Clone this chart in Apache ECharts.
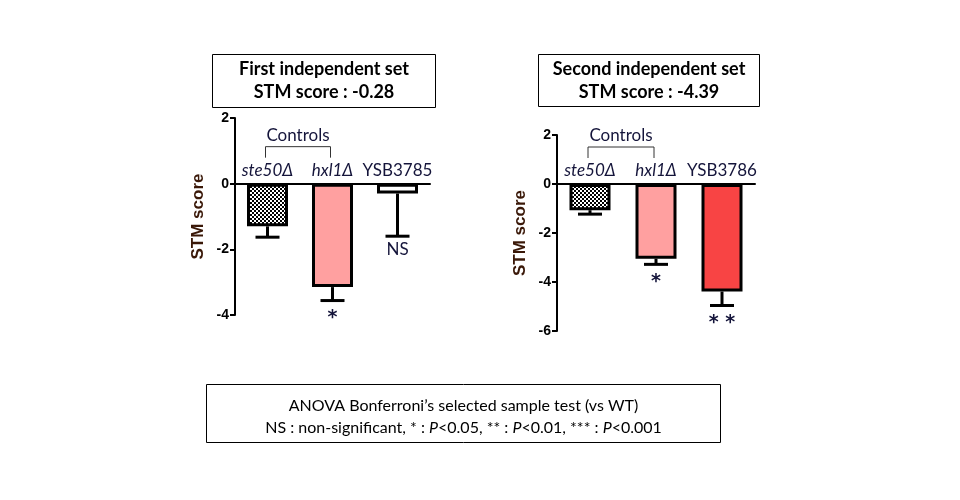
<!DOCTYPE html>
<html>
<head>
<meta charset="utf-8">
<script src="https://cdn.jsdelivr.net/npm/echarts@6/dist/echarts.min.js"></script>
<style>
  html, body { margin: 0; padding: 0; background: #fff; }
  #main { width: 960px; height: 500px; }
</style>
</head>
<body>
<div id="main"></div>
<script>
// values
var categoriesLeft = ['ste50Δ', 'hxl1Δ', 'YSB3785'];
var meansLeft = [-1.3, -3.15, -0.3];
var errLeft = [0.33, 0.41, 1.3];
var sigLeft = ['', '*', 'NS'];

var categoriesRight = ['ste50Δ', 'hxl1Δ', 'YSB3786'];
var meansRight = [-1.07, -3.05, -4.39];
var errRight = [0.16, 0.23, 0.57];
var sigRight = ['', '*', '**'];

var ticksLeft = { min: -4, max: 2, interval: 2 };
var ticksRight = { min: -6, max: 2, interval: 2 };

var FONT = 'Lato';
var TXT = '#14143a';

function checker() {
    var c = document.createElement('canvas');
    c.width = 4; c.height = 4;
    var g = c.getContext('2d');
    g.fillStyle = '#fff';
    g.fillRect(0, 0, 4, 4);
    g.fillStyle = '#000';
    g.fillRect(0, 0, 2, 2);
    g.fillRect(2, 2, 2, 2);
    return c;
}
var pattern = { image: checker(), repeat: 'repeat' };
var colorsLeft = [pattern, '#ffa0a0', '#ffffff'];
var colorsRight = [pattern, '#ffa0a0', '#f84444'];

var dom = document.getElementById('main');
var myChart = echarts.init(dom, null, { renderer: 'canvas' });

function xAxisFor(idx, cats) {
    return {
        type: 'category',
        gridIndex: idx,
        data: cats,
        axisLine: { onZero: true, lineStyle: { color: '#000', width: 2 } },
        axisTick: { show: false },
        axisLabel: { show: false }
    };
}

function yAxisFor(idx, t, gap) {
    return {
        type: 'value',
        gridIndex: idx,
        min: t.min,
        max: t.max,
        interval: t.interval,
        name: 'STM score',
        nameLocation: 'middle',
        nameGap: gap,
        nameTextStyle: { fontFamily: 'Liberation Sans', fontWeight: 'bold', fontSize: 17, color: '#3a1808' },
        axisLine: { show: true, lineStyle: { color: '#000', width: 2 } },
        axisTick: { show: true, length: 5, lineStyle: { color: '#000', width: 2 } },
        axisLabel: { fontFamily: 'Liberation Sans', fontWeight: 'bold', fontSize: 14, color: '#000', margin: 6 },
        splitLine: { show: false }
    };
}

function barSeries(idx, means, colors) {
    return {
        type: 'bar',
        xAxisIndex: idx,
        yAxisIndex: idx,
        barWidth: 41,
        data: means.map(function (v, i) {
            return { value: v, itemStyle: { color: colors[i] } };
        }),
        itemStyle: { borderColor: '#000', borderWidth: 3 },
        silent: true
    };
}

function errorSeries(idx, means, errs, sig) {
    return {
        type: 'custom',
        xAxisIndex: idx,
        yAxisIndex: idx,
        z: 5,
        silent: true,
        data: means.map(function (v, i) { return [i, v, errs[i]]; }),
        renderItem: function (params, api) {
            var i = api.value(0), m = api.value(1), e = api.value(2);
            var a = api.coord([i, m]);
            var b = api.coord([i, m - e]);
            var half = 12;
            var children = [
                { type: 'line', shape: { x1: a[0], y1: a[1], x2: b[0], y2: b[1] }, style: { stroke: '#000', lineWidth: 3 } },
                { type: 'line', shape: { x1: b[0] - half, y1: b[1], x2: b[0] + half, y2: b[1] }, style: { stroke: '#000', lineWidth: 3 } }
            ];
            var s = sig[params.dataIndex];
            if (s) {
                var isNS = s === 'NS';
                children.push({
                    type: 'text',
                    style: {
                        text: s === '**' ? '* *' : s,
                        x: b[0], y: b[1] + (isNS ? 5 : 8),
                        align: 'center', verticalAlign: 'top',
                        font: isNS ? '17px ' + FONT : 'bold 19px "DejaVu Sans"',
                        fill: TXT
                    }
                });
            }
            return { type: 'group', children: children };
        }
    };
}

// category names sit above the zero line
function labelSeries(idx, cats) {
    return {
        type: 'custom',
        xAxisIndex: idx,
        yAxisIndex: idx,
        silent: true,
        data: cats.map(function (c, i) { return [i, 0]; }),
        renderItem: function (params, api) {
            var p = api.coord([api.value(0), 0]);
            var name = cats[params.dataIndex];
            var it = name.indexOf('Δ') >= 0;
            return {
                type: 'text',
                style: {
                    text: name, x: p[0], y: p[1] - 13,
                    align: 'center', verticalAlign: 'middle',
                    font: (it ? 'italic ' : '') + '17px ' + FONT,
                    fill: TXT
                }
            };
        }
    };
}

function bracketSeries(idx) {
    return {
        type: 'custom',
        xAxisIndex: idx,
        yAxisIndex: idx,
        silent: true,
        data: [[0, 1]],
        renderItem: function (params, api) {
            var p0 = api.coord([api.value(0), 0]);
            var p1 = api.coord([api.value(1), 0]);
            var x0 = p0[0] - 2, x1 = p1[0] - 2, y = p0[1];
            return {
                type: 'group',
                children: [
                    { type: 'polyline', shape: { points: [[x0, y - 26], [x0, y - 37], [x1, y - 37], [x1, y - 26]] }, style: { stroke: '#333', lineWidth: 1, fill: null } },
                    { type: 'text', style: { text: 'Controls', x: (x0 + x1) / 2, y: y - 48, align: 'center', verticalAlign: 'middle', font: '17px ' + FONT, fill: TXT } }
                ]
            };
        }
    };
}

function titleBox(x, y, w, h, l1, l2) {
    return {
        type: 'group',
        left: x, top: y,
        children: [
            { type: 'rect', shape: { x: 0, y: 0, width: w, height: h }, style: { fill: '#fff', stroke: '#000', lineWidth: 1 } },
            { type: 'text', style: { text: l1, x: w / 2, y: 15, align: 'center', verticalAlign: 'middle', font: 'bold 18px ' + FONT, fill: '#000' } },
            { type: 'text', style: { text: l2, x: w / 2, y: 38, align: 'center', verticalAlign: 'middle', font: 'bold 18px ' + FONT, fill: '#000' } }
        ]
    };
}

var option = {
    animation: false,
    backgroundColor: '#fff',
    grid: [
        { left: 235, top: 118, width: 195, height: 197 },
        { left: 557, top: 135, width: 198, height: 196 }
    ],
    xAxis: [xAxisFor(0, categoriesLeft), xAxisFor(1, categoriesRight)],
    yAxis: [yAxisFor(0, ticksLeft, 28), yAxisFor(1, ticksRight, 28)],
    series: [
        barSeries(0, meansLeft, colorsLeft),
        errorSeries(0, meansLeft, errLeft, sigLeft),
        labelSeries(0, categoriesLeft),
        bracketSeries(0),
        barSeries(1, meansRight, colorsRight),
        errorSeries(1, meansRight, errRight, sigRight),
        labelSeries(1, categoriesRight),
        bracketSeries(1)
    ],
    graphic: [
        titleBox(212, 54, 223, 53, 'First independent set', 'STM score : -0.28'),
        titleBox(538, 54, 221, 52, 'Second independent set', 'STM score : -4.39'),
        {
            type: 'group',
            left: 206, top: 384,
            children: [
                { type: 'rect', shape: { x: 0, y: 0, width: 514, height: 58 }, style: { fill: '#fff', stroke: '#000', lineWidth: 1 } },
                { type: 'text', style: { text: 'ANOVA Bonferroni’s selected sample test (vs WT)', x: 257, y: 21, align: 'center', verticalAlign: 'middle', font: '16px ' + FONT, fill: '#000' } },
                {
                    type: 'text',
                    style: {
                        text: 'NS : non-significant, * : {i|P}<0.05, ** : {i|P}<0.01, *** : {i|P}<0.001',
                        x: 257, y: 43, align: 'center', verticalAlign: 'middle',
                        font: '16px ' + FONT, fill: '#000',
                        rich: { i: { fontStyle: 'italic', fontFamily: FONT, fontSize: 16, fill: '#000' } }
                    }
                }
            ]
        }
    ]
};

if (option && typeof option === 'object') {
    myChart.setOption(option);
}
</script>
</body>
</html>
